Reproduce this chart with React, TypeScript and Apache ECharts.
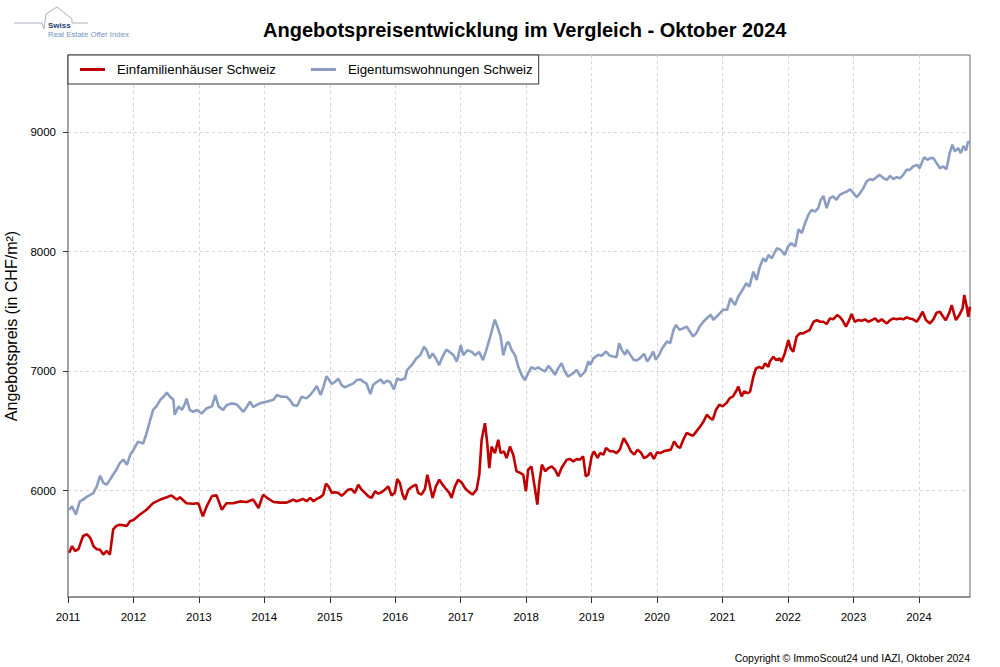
import React, { useEffect, useRef } from "react";
import * as echarts from "echarts";

const FONT = "'Liberation Sans', Arial, Helvetica, sans-serif";

const titleText = "Angebotspreisentwicklung im Vergleich - Oktober 2024";
const yAxisTitle = "Angebotspreis (in CHF/m²)";
const footerText = "Copyright © ImmoScout24 und IAZI, Oktober 2024";
const seriesNames = ["Einfamilienhäuser Schweiz", "Eigentumswohnungen Schweiz"];

const xTicks = [2011, 2012, 2013, 2014, 2015, 2016, 2017, 2018, 2019, 2020, 2021, 2022, 2023, 2024];
const yTicks = [6000, 7000, 8000, 9000];
const xMin = 2011;
const xMax = 2024.78;
const yMin = 5110;
const yMax = 9645;

// Einfamilienhäuser (EFH) — [decimal year, CHF/m²]
const efh2011to2014: [number, number][] = [
  [2011.02, 5480], [2011.06, 5535], [2011.11, 5495], [2011.16, 5510], [2011.23, 5620], [2011.29, 5635],
  [2011.34, 5605], [2011.39, 5535], [2011.44, 5510], [2011.49, 5505], [2011.54, 5465], [2011.59, 5495],
  [2011.64, 5465], [2011.69, 5675], [2011.74, 5705], [2011.79, 5715], [2011.9, 5705], [2011.95, 5745],
  [2012.0, 5755], [2012.1, 5800], [2012.2, 5840], [2012.3, 5895], [2012.41, 5925], [2012.51, 5945],
  [2012.58, 5960], [2012.66, 5925], [2012.71, 5945], [2012.81, 5895], [2012.91, 5890], [2012.99, 5895],
  [2013.06, 5785], [2013.12, 5870], [2013.2, 5955], [2013.27, 5960], [2013.35, 5840], [2013.42, 5895],
  [2013.52, 5895], [2013.63, 5910], [2013.73, 5905], [2013.83, 5925], [2013.91, 5855], [2013.98, 5965],
  [2014.04, 5940], [2014.14, 5905], [2014.24, 5900], [2014.34, 5900],
];
const efh2014to2018: [number, number][] = [
  [2014.39, 5911], [2014.44, 5925], [2014.49, 5911], [2014.54, 5919], [2014.59, 5931], [2014.645, 5911],
  [2014.7, 5939], [2014.75, 5911], [2014.8, 5931], [2014.86, 5947], [2014.9, 5967], [2014.94, 6058],
  [2014.98, 6036], [2015.03, 5981], [2015.08, 5986], [2015.13, 5981], [2015.18, 5958], [2015.23, 5981],
  [2015.28, 6008], [2015.33, 6014], [2015.38, 5981], [2015.435, 6050], [2015.486, 6008], [2015.537, 5981],
  [2015.588, 5953], [2015.638, 5939], [2015.69, 5994], [2015.74, 5975], [2015.79, 5986], [2015.84, 6008],
  [2015.893, 6036], [2015.944, 5958], [2015.995, 5986], [2016.03, 6097], [2016.07, 6064], [2016.112, 5967],
  [2016.148, 5925], [2016.2, 6008], [2016.25, 6031], [2016.316, 6050], [2016.35, 5981], [2016.4, 5967],
  [2016.453, 6014], [2016.49, 6133], [2016.53, 6036], [2016.57, 5939], [2016.62, 6036], [2016.672, 6092],
  [2016.723, 6050], [2016.774, 6014], [2016.825, 5981], [2016.86, 5939], [2016.911, 6036], [2016.962, 6092],
  [2017.013, 6069], [2017.064, 6022], [2017.115, 5994], [2017.18, 5967], [2017.242, 6008], [2017.283, 6133],
  [2017.319, 6425], [2017.37, 6564], [2017.405, 6397], [2017.436, 6189], [2017.471, 6369], [2017.522, 6314],
  [2017.573, 6425], [2017.609, 6314], [2017.66, 6328], [2017.7, 6272], [2017.752, 6369], [2017.802, 6300],
  [2017.853, 6161], [2017.914, 6147], [2017.955, 6133], [2017.996, 5994],
];
const efh2018to2021: [number, number][] = [
  [2018.03, 6175], [2018.08, 6203], [2018.12, 6064], [2018.17, 5883], [2018.2, 6064], [2018.24, 6217],
  [2018.29, 6162], [2018.34, 6189], [2018.39, 6203], [2018.44, 6175], [2018.49, 6120], [2018.54, 6189],
  [2018.62, 6259], [2018.67, 6265], [2018.72, 6245], [2018.77, 6265], [2018.82, 6259], [2018.87, 6287],
  [2018.91, 6120], [2018.95, 6134], [2019.0, 6287], [2019.035, 6329], [2019.09, 6273], [2019.13, 6315],
  [2019.18, 6301], [2019.22, 6357], [2019.28, 6329], [2019.33, 6329], [2019.38, 6315], [2019.43, 6343],
  [2019.49, 6440], [2019.55, 6384], [2019.6, 6329], [2019.65, 6301], [2019.7, 6343], [2019.75, 6320],
  [2019.8, 6273], [2019.85, 6287], [2019.9, 6315], [2019.95, 6265], [2020.0, 6320], [2020.05, 6315],
  [2020.1, 6329], [2020.16, 6337], [2020.21, 6343], [2020.26, 6412], [2020.31, 6370], [2020.35, 6357],
  [2020.4, 6426], [2020.45, 6482], [2020.51, 6468], [2020.55, 6460], [2020.6, 6496], [2020.66, 6538],
  [2020.71, 6579], [2020.76, 6635], [2020.81, 6607], [2020.85, 6593], [2020.9, 6677], [2020.95, 6719],
  [2021.0, 6705], [2021.06, 6733], [2021.11, 6774], [2021.16, 6788], [2021.22, 6844], [2021.24, 6872],
  [2021.29, 6788], [2021.33, 6830], [2021.38, 6816],
];
const efh2021to2024: [number, number][] = [
  [2021.42, 6827], [2021.47, 6953], [2021.51, 7022], [2021.56, 7036], [2021.61, 7022], [2021.65, 7064],
  [2021.7, 7036], [2021.72, 7078], [2021.775, 7120], [2021.82, 7092], [2021.87, 7106], [2021.9, 7078],
  [2021.95, 7148], [2022.005, 7260], [2022.04, 7190], [2022.08, 7162], [2022.13, 7288], [2022.18, 7316],
  [2022.23, 7316], [2022.28, 7330], [2022.33, 7344], [2022.39, 7413], [2022.44, 7427], [2022.49, 7413],
  [2022.54, 7413], [2022.59, 7394], [2022.64, 7441], [2022.69, 7433], [2022.75, 7469], [2022.79, 7455],
  [2022.83, 7427], [2022.885, 7372], [2022.935, 7427], [2022.97, 7478], [2023.02, 7413], [2023.07, 7427],
  [2023.125, 7422], [2023.175, 7433], [2023.226, 7413], [2023.28, 7427], [2023.33, 7441], [2023.38, 7413],
  [2023.43, 7433], [2023.51, 7399], [2023.56, 7427], [2023.61, 7441], [2023.66, 7433], [2023.71, 7441],
  [2023.76, 7433], [2023.81, 7450], [2023.86, 7441], [2023.91, 7433], [2023.965, 7413], [2024.016, 7455],
  [2024.056, 7497], [2024.107, 7427], [2024.168, 7399], [2024.22, 7433], [2024.27, 7489], [2024.32, 7497],
  [2024.37, 7455], [2024.41, 7427], [2024.464, 7489], [2024.5, 7553], [2024.535, 7483], [2024.566, 7427],
  [2024.616, 7469], [2024.667, 7525], [2024.693, 7637], [2024.73, 7539], [2024.754, 7455], [2024.78, 7539],
];

// Eigentumswohnungen (ETW) — [decimal year, CHF/m²]
const etw2011to2014: [number, number][] = [
  [2011.02, 5840], [2011.06, 5870], [2011.12, 5800], [2011.18, 5910], [2011.23, 5925], [2011.29, 5950],
  [2011.34, 5965], [2011.39, 5980], [2011.44, 6035], [2011.49, 6125], [2011.54, 6065], [2011.59, 6050],
  [2011.64, 6090], [2011.69, 6135], [2011.74, 6175], [2011.79, 6230], [2011.85, 6260], [2011.9, 6215],
  [2011.95, 6300], [2012.0, 6340], [2012.07, 6410], [2012.15, 6395], [2012.2, 6480], [2012.25, 6580],
  [2012.3, 6675], [2012.35, 6705], [2012.41, 6760], [2012.46, 6785], [2012.51, 6820], [2012.56, 6785],
  [2012.61, 6760], [2012.63, 6635], [2012.69, 6705], [2012.74, 6675], [2012.79, 6730], [2012.81, 6770],
  [2012.86, 6675], [2012.91, 6660], [2012.97, 6675], [2013.04, 6645], [2013.12, 6690], [2013.2, 6705],
  [2013.25, 6800], [2013.3, 6705], [2013.37, 6675], [2013.42, 6715], [2013.5, 6730], [2013.58, 6720],
  [2013.68, 6660], [2013.73, 6700], [2013.78, 6745], [2013.83, 6700], [2013.93, 6730], [2014.04, 6745],
  [2014.14, 6760], [2014.19, 6800], [2014.26, 6785], [2014.34, 6785],
];
const etw2014to2018: [number, number][] = [
  [2014.39, 6758], [2014.44, 6717], [2014.5, 6708], [2014.57, 6786], [2014.64, 6772], [2014.7, 6800],
  [2014.76, 6842], [2014.8, 6875], [2014.86, 6800], [2014.9, 6864], [2014.95, 6958], [2015.03, 6892],
  [2015.08, 6911], [2015.13, 6936], [2015.18, 6883], [2015.23, 6864], [2015.3, 6883], [2015.36, 6897],
  [2015.41, 6925], [2015.47, 6930], [2015.51, 6911], [2015.56, 6897], [2015.62, 6808], [2015.66, 6883],
  [2015.72, 6911], [2015.78, 6930], [2015.82, 6897], [2015.87, 6920], [2015.92, 6911], [2015.98, 6847],
  [2016.03, 6939], [2016.08, 6925], [2016.15, 6939], [2016.18, 7008], [2016.25, 7050], [2016.32, 7106],
  [2016.38, 7133], [2016.44, 7203], [2016.48, 7175], [2016.52, 7106], [2016.57, 7147], [2016.62, 7106],
  [2016.67, 7050], [2016.72, 7120], [2016.78, 7180], [2016.83, 7161], [2016.89, 7133], [2016.94, 7078],
  [2017.0, 7217], [2017.04, 7133], [2017.1, 7175], [2017.17, 7161], [2017.22, 7133], [2017.28, 7161],
  [2017.34, 7092], [2017.39, 7175], [2017.45, 7286], [2017.52, 7431], [2017.57, 7356], [2017.61, 7286],
  [2017.65, 7133], [2017.7, 7231], [2017.73, 7244], [2017.78, 7175], [2017.83, 7133], [2017.88, 7036],
  [2017.93, 6967], [2017.98, 6925],
];
const etw2018to2021: [number, number][] = [
  [2018.03, 6983], [2018.08, 7033], [2018.13, 7017], [2018.18, 7031], [2018.24, 7010], [2018.29, 6997],
  [2018.34, 7045], [2018.39, 7010], [2018.44, 6969], [2018.49, 7025], [2018.54, 7067], [2018.59, 6997],
  [2018.64, 6955], [2018.72, 6983], [2018.77, 7010], [2018.83, 6955], [2018.9, 6997], [2018.95, 7081],
  [2018.98, 7053], [2019.03, 7109], [2019.1, 7136], [2019.15, 7128], [2019.22, 7164], [2019.28, 7128],
  [2019.33, 7122], [2019.38, 7117], [2019.42, 7234], [2019.46, 7178], [2019.51, 7136], [2019.54, 7178],
  [2019.59, 7136], [2019.64, 7095], [2019.69, 7089], [2019.74, 7109], [2019.8, 7145], [2019.85, 7081],
  [2019.9, 7122], [2019.94, 7164], [2019.98, 7095], [2020.03, 7136], [2020.08, 7192], [2020.15, 7248],
  [2020.2, 7234], [2020.25, 7345], [2020.29, 7387], [2020.34, 7345], [2020.4, 7359], [2020.45, 7373],
  [2020.5, 7331], [2020.55, 7290], [2020.6, 7318], [2020.65, 7373], [2020.71, 7415], [2020.76, 7443],
  [2020.82, 7471], [2020.86, 7429], [2020.91, 7457], [2020.96, 7485], [2021.01, 7513], [2021.07, 7513],
  [2021.12, 7610], [2021.19, 7554], [2021.24, 7624], [2021.29, 7666], [2021.36, 7735],
];
const etw2021to2024: [number, number][] = [
  [2021.41, 7707], [2021.47, 7832], [2021.52, 7763], [2021.57, 7874], [2021.62, 7944], [2021.66, 7916],
  [2021.7, 7972], [2021.75, 7944], [2021.83, 8028], [2021.89, 8014], [2021.95, 7972], [2022.0, 8042],
  [2022.05, 8070], [2022.11, 8042], [2022.16, 8187], [2022.21, 8154], [2022.26, 8237], [2022.31, 8307],
  [2022.36, 8349], [2022.41, 8335], [2022.46, 8363], [2022.5, 8433], [2022.54, 8466], [2022.59, 8363],
  [2022.64, 8447], [2022.69, 8461], [2022.74, 8433], [2022.79, 8475], [2022.84, 8489], [2022.9, 8503],
  [2022.95, 8522], [2023.0, 8489], [2023.05, 8455], [2023.1, 8489], [2023.15, 8531], [2023.2, 8587],
  [2023.25, 8606], [2023.3, 8600], [2023.35, 8623], [2023.4, 8642], [2023.46, 8614], [2023.51, 8600],
  [2023.56, 8634], [2023.61, 8606], [2023.66, 8623], [2023.71, 8614], [2023.76, 8642], [2023.81, 8684],
  [2023.86, 8684], [2023.91, 8712], [2023.97, 8726], [2024.01, 8698], [2024.04, 8740], [2024.08, 8790],
  [2024.13, 8768], [2024.17, 8782], [2024.22, 8782], [2024.27, 8740], [2024.32, 8698], [2024.37, 8712],
  [2024.42, 8690], [2024.47, 8824], [2024.51, 8894], [2024.55, 8838], [2024.6, 8866], [2024.64, 8824],
  [2024.68, 8885], [2024.72, 8846], [2024.75, 8922], [2024.78, 8908],
];

const efhData = [...efh2011to2014, ...efh2014to2018, ...efh2018to2021, ...efh2021to2024];
const etwData = [...etw2011to2014, ...etw2014to2018, ...etw2018to2021, ...etw2021to2024];

const RED = "#c00000";
const BLUE = "#8b9dc1";

export default function App() {
  const ref = useRef<HTMLDivElement>(null);

  useEffect(() => {
    document.body.style.margin = "0";
    const chart = echarts.init(ref.current as HTMLDivElement, undefined, { renderer: "svg" });
    chart.setOption({
      animation: false,
      backgroundColor: "#ffffff",
      textStyle: { fontFamily: FONT },
      title: {
        text: titleText,
        left: 258,
        top: 15,
        textStyle: { fontFamily: FONT, fontSize: 20, fontWeight: "bold", color: "#000" },
      },
      legend: {
        left: 68,
        top: 55,
        orient: "horizontal",
        padding: [8, 6, 8, 12],
        borderColor: "#333",
        borderWidth: 1,
        borderRadius: 0,
        backgroundColor: "#fff",
        icon: "rect",
        itemWidth: 25,
        itemHeight: 3,
        itemGap: 35,
        textStyle: { fontFamily: FONT, fontSize: 13.3, color: "#000", padding: [0, 0, 0, 7] },
        data: seriesNames,
      },
      grid: {
        left: 68,
        top: 55,
        width: 902,
        height: 542,
        show: true,
        borderColor: "#666",
        borderWidth: 1,
        containLabel: false,
        outerBoundsMode: "none",
      },
      xAxis: {
        type: "value",
        min: xMin,
        max: xMax,
        interval: 1,
        axisLine: { show: true, onZero: false, lineStyle: { color: "#888", width: 1.5 } },
        axisTick: { show: true, length: 6, lineStyle: { color: "#333" }, customValues: xTicks },
        axisLabel: {
          customValues: xTicks,
          formatter: (v: number) => String(v),
          fontFamily: FONT,
          fontSize: 11.5,
          color: "#000",
          margin: 14,
        },
        splitLine: { show: true, lineStyle: { type: [3, 3], color: "#d4d4d4", width: 1 } },
      },
      yAxis: {
        type: "value",
        min: yMin,
        max: yMax,
        splitNumber: 5,
        name: yAxisTitle,
        nameLocation: "middle",
        nameGap: 48,
        nameTextStyle: { fontFamily: FONT, fontSize: 16, color: "#000" },
        axisLine: { show: true, onZero: false, lineStyle: { color: "#999", width: 1.5 } },
        axisTick: { show: true, length: 5, lineStyle: { color: "#333" }, customValues: yTicks },
        axisLabel: {
          customValues: yTicks,
          formatter: (v: number) => String(v),
          fontFamily: FONT,
          fontSize: 11.5,
          color: "#000",
          margin: 12,
        },
        splitLine: { show: true, lineStyle: { type: [3, 3], color: "#d4d4d4", width: 1 } },
      },
      series: [
        {
          name: seriesNames[0],
          type: "line",
          data: efhData,
          showSymbol: false,
          symbol: "none",
          smooth: false,
          lineStyle: { color: RED, width: 2.6 },
          itemStyle: { color: RED },
          z: 3,
        },
        {
          name: seriesNames[1],
          type: "line",
          data: etwData,
          showSymbol: false,
          symbol: "none",
          smooth: false,
          lineStyle: { color: BLUE, width: 2.6 },
          itemStyle: { color: BLUE },
          z: 2,
        },
      ],
      graphic: [
        {
          type: "polyline",
          shape: {
            points: [[14, 23], [42, 23], [44, 29], [46, 14], [57, 7], [72, 19], [72, 23], [88, 23]],
          },
          style: { stroke: "#a7b0bd", lineWidth: 1, fill: "none" },
          silent: true,
        },
        {
          type: "text",
          x: 48,
          y: 25,
          style: {
            text: "Swiss",
            fontFamily: FONT,
            fontSize: 8,
            fontWeight: "bold",
            fill: "#243f6c",
            verticalAlign: "middle",
          },
        },
        {
          type: "text",
          x: 48,
          y: 34.5,
          style: {
            text: "Real Estate Offer Index",
            fontFamily: FONT,
            fontSize: 7.8,
            fill: "#7393c0",
            verticalAlign: "middle",
          },
        },
        {
          type: "text",
          x: 970,
          y: 658,
          style: {
            text: footerText,
            fontFamily: FONT,
            fontSize: 10.5,
            fill: "#000",
            align: "right",
            verticalAlign: "middle",
          },
        },
      ],
    });
    return () => chart.dispose();
  }, []);

  return <div ref={ref} style={{ width: 1000, height: 667, position: "absolute", left: 0, top: 0 }} />;
}
